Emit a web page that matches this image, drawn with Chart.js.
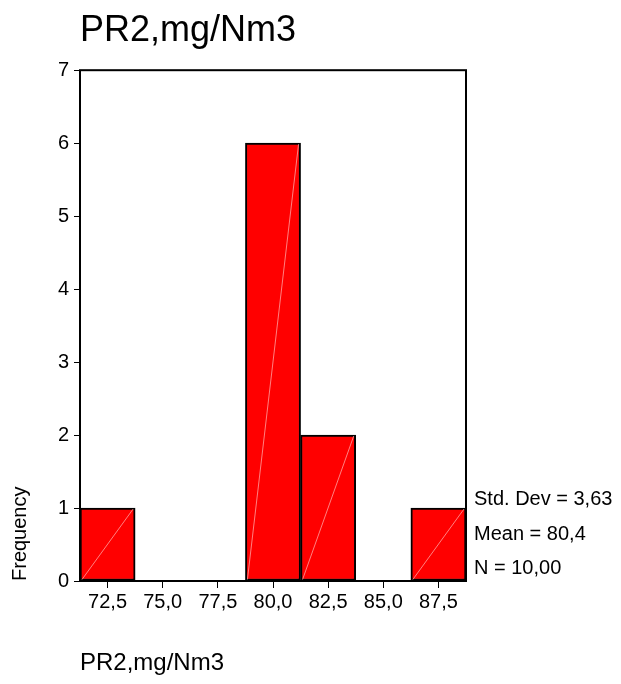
<!DOCTYPE html>
<html>
<head>
<meta charset="utf-8">
<script src="https://cdn.jsdelivr.net/npm/chart.js@4/dist/chart.umd.min.js"></script>
<style>
  html, body { margin: 0; padding: 0; background: #ffffff; }
  #wrap { width: 621px; height: 684px; position: relative; }
</style>
</head>
<body>
<div id="wrap"><canvas id="c" width="621" height="684"></canvas></div>
<script>
const chartTitle = 'PR2,mg/Nm3';
const xAxisTitle = 'PR2,mg/Nm3';
const yAxisTitle = 'Frequency';
const categories = ['72,5', '75,0', '77,5', '80,0', '82,5', '85,0', '87,5'];
const frequencies = [1, 0, 0, 6, 2, 0, 1];
const yMin = 0;
const yMax = 7;
const yStep = 1;
const statsLines = ['Std. Dev = 3,63', 'Mean = 80,4', 'N = 10,00'];

const FONT = '"Liberation Sans", Arial, Helvetica, sans-serif';

const framePlugin = {
  id: 'frame',
  afterDatasetsDraw(chart) {
    const ctx = chart.ctx;
    const a = chart.chartArea;
    // diagonal highlight lines within each bar
    const meta = chart.getDatasetMeta(0);
    ctx.save();
    ctx.strokeStyle = 'rgba(255,190,190,0.85)';
    ctx.lineWidth = 0.8;
    meta.data.forEach((bar) => {
      const p = bar.getProps(['x', 'y', 'base', 'width'], true);
      if (Math.abs(p.base - p.y) < 1) return;
      ctx.beginPath();
      ctx.moveTo(p.x - p.width / 2 + 2, p.base - 1);
      ctx.lineTo(p.x + p.width / 2 - 2, p.y + 1);
      ctx.stroke();
    });
    ctx.restore();
    // frame
    ctx.save();
    ctx.strokeStyle = '#000';
    ctx.lineWidth = 2;
    ctx.strokeRect(a.left, a.top, a.right - a.left, a.bottom - a.top);
    ctx.restore();
  },
  afterDraw(chart) {
    const ctx = chart.ctx;
    const a = chart.chartArea;
    ctx.save();
    ctx.fillStyle = '#000';
    ctx.font = '20px ' + FONT;
    ctx.textAlign = 'left';
    ctx.textBaseline = 'alphabetic';
    const step = 34.5;
    const lastBaseline = a.bottom - 7;
    statsLines.forEach((t, i) => {
      ctx.fillText(t, a.right + 8, lastBaseline - (statsLines.length - 1 - i) * step);
    });
    ctx.restore();
  }
};

new Chart(document.getElementById('c'), {
  type: 'bar',
  data: {
    labels: categories,
    datasets: [{
      data: frequencies,
      backgroundColor: '#ff0000',
      borderColor: '#000000',
      borderWidth: 2,
      borderSkipped: false,
      barPercentage: 1.0,
      categoryPercentage: 1.0
    }]
  },
  options: {
    responsive: false,
    animation: false,
    devicePixelRatio: 1,
    layout: { padding: { left: 0, right: 155, top: 0, bottom: 0 } },
    plugins: {
      legend: { display: false },
      tooltip: { enabled: false },
      title: {
        display: true,
        text: chartTitle,
        align: 'start',
        fullSize: false,
        color: '#000',
        font: { family: FONT, size: 36, weight: 'normal' },
        padding: { top: 9, bottom: 18 }
      }
    },
    scales: {
      x: {
        type: 'category',
        offset: true,
        grid: { display: true, drawOnChartArea: false, drawTicks: true, tickLength: 7, color: '#000', lineWidth: 1, offset: false },
        border: { display: false },
        ticks: { color: '#000', font: { family: FONT, size: 20 }, padding: 2, maxRotation: 0, autoSkip: false },
        title: { display: true, text: xAxisTitle, align: 'start', color: '#000', font: { family: FONT, size: 24 }, padding: { top: 0, bottom: 6 } },
        afterFit(scale) { scale.height = 103; }
      },
      y: {
        min: yMin,
        max: yMax,
        grid: { display: true, drawOnChartArea: false, drawTicks: true, tickLength: 6, color: '#000', lineWidth: 1 },
        border: { display: false },
        ticks: { stepSize: yStep, color: '#000', font: { family: FONT, size: 20 }, padding: 5 },
        title: { display: true, text: yAxisTitle, align: 'start', color: '#000', font: { family: FONT, size: 20 }, padding: { top: 8, bottom: 0 } },
        afterFit(scale) { scale.width = 80; }
      }
    }
  },
  plugins: [framePlugin]
});
</script>
</body>
</html>
